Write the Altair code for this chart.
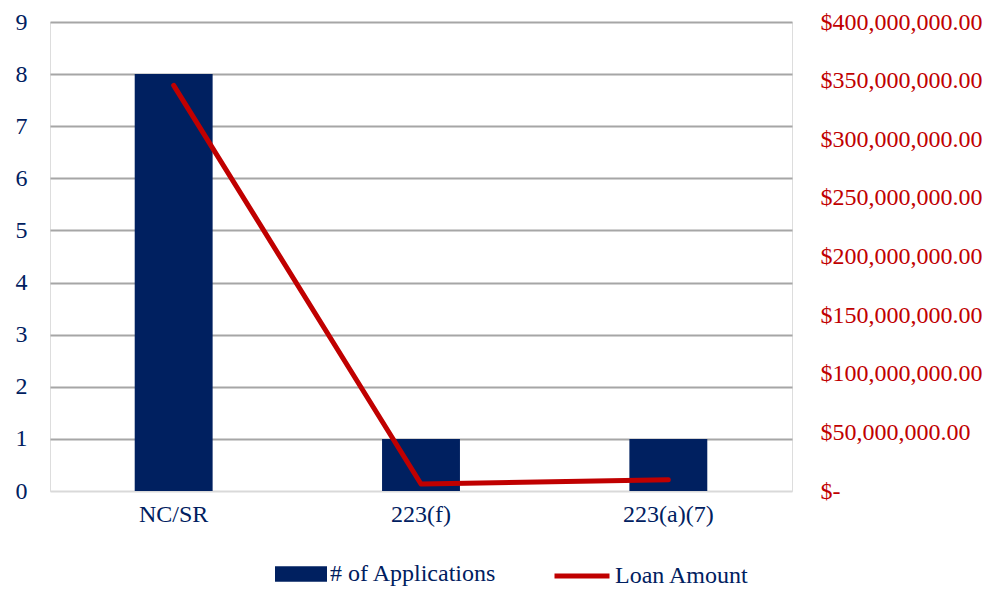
import altair as alt
import pandas as pd

categories = ["NC/SR", "223(f)", "223(a)(7)"]
applications = [8, 1, 1]
loan_amounts = [346000000, 6000000, 9500000]

bar_name = "# of Applications"
line_name = "Loan Amount"

df = pd.DataFrame({
    "category": categories,
    "apps": applications,
    "loan": loan_amounts,
    "bar_series": [bar_name] * 3,
    "line_series": [line_name] * 3,
})

NAVY = "#002060"
RED = "#C00000"
FONT = "Liberation Serif"
FS = 24

x_enc = alt.X(
    "category:N",
    sort=categories,
    title=None,
    scale=alt.Scale(paddingInner=0.685, paddingOuter=0.3425),
    axis=alt.Axis(labelAngle=0, domain=False, ticks=False, labelPadding=11,
                  labelColor=NAVY, labelFont=FONT, labelFontSize=FS),
)

bars = alt.Chart(df).mark_bar(color=NAVY).encode(
    x=x_enc,
    y=alt.Y(
        "apps:Q",
        title=None,
        scale=alt.Scale(domain=[0, 9], nice=False),
        axis=alt.Axis(values=list(range(0, 10)), domain=False, ticks=False,
                      labelPadding=23, labelColor=NAVY, labelFont=FONT, labelFontSize=FS,
                      grid=True, gridWidth=2,
                      gridColor={"condition": {"test": "datum.value === 0", "value": "#D9D9D9"},
                                 "value": "#A6A6A6"}),
    ),
    color=alt.Color(
        "bar_series:N",
        scale=alt.Scale(domain=[bar_name], range=[NAVY]),
        legend=alt.Legend(title=None, orient="none", legendX=225, legendY=526,
                          symbolType="M-1,-0.3H1V0.3H-1Z", symbolSize=2704,
                          symbolStrokeWidth=0, symbolOpacity=1,
                          labelFont=FONT, labelFontSize=FS, labelColor=NAVY,
                          labelOffset=3, labelLimit=0, padding=0),
    ),
)

line = alt.Chart(df).mark_line(strokeWidth=5, strokeCap="round", strokeJoin="round").encode(
    x=alt.X("category:N", sort=categories),
    y=alt.Y(
        "loan:Q",
        title=None,
        scale=alt.Scale(domain=[0, 400000000], nice=False),
        axis=alt.Axis(orient="right", values=[i * 50000000 for i in range(9)],
                      domain=False, ticks=False, grid=False, labelPadding=28,
                      labelColor=RED, labelFont=FONT, labelFontSize=FS,
                      labelExpr="datum.value === 0 ? '$-' : format(datum.value, '$,.2f')"),
    ),
    stroke=alt.Stroke(
        "line_series:N",
        scale=alt.Scale(domain=[line_name], range=[RED]),
        legend=alt.Legend(title=None, orient="none", legendX=502, legendY=524,
                          symbolType="stroke", symbolSize=3025, symbolStrokeWidth=5,
                          labelFont=FONT, labelFontSize=FS, labelColor=NAVY,
                          labelOffset=3, labelLimit=0, padding=0),
    ),
)

chart = alt.layer(bars, line).resolve_scale(
    y="independent", color="independent", stroke="independent"
).properties(
    width=742,
    height=469,
    autosize=alt.AutoSizeParams(type="none"),
    padding={"left": 42, "top": 14, "right": 204, "bottom": 98},
).configure_view(stroke=None).configure(background="white")

chart.save("out.html", embed_options={"renderer": "svg", "actions": False})
